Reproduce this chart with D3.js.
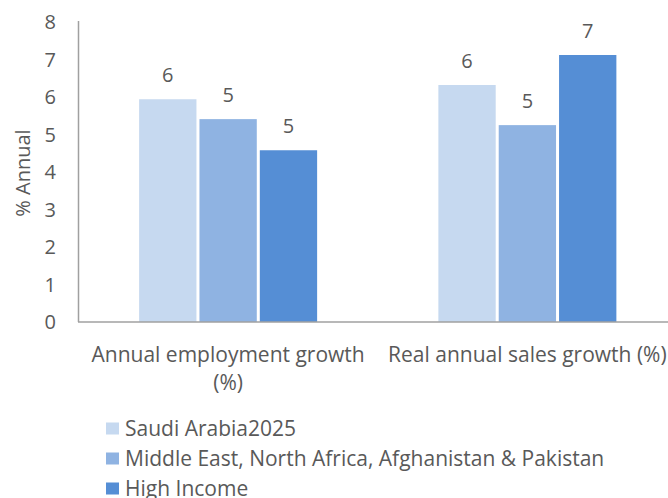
<!DOCTYPE html>
<html lang="en">
<head>
<meta charset="UTF-8">
<title>Growth</title>
<script src="https://d3js.org/d3.v7.min.js"></script>
<style>
    body { margin: 0; background: #fff; }
    text { font-family: 'Open Sans', 'Noto Sans', sans-serif; fill: #595959; }
</style>
</head>
<body>
<div id="chart"></div>
<script>
    const categories = ["Annual employment growth (%)", "Real annual sales growth (%)"];
    const categoryLines = [["Annual employment growth", "(%)"], ["Real annual sales growth (%)"]];
    const seriesNames = ["Saudi Arabia2025", "Middle East, North Africa, Afghanistan & Pakistan", "High Income"];
    const saudi = [5.94, 6.32];
    const mena = [5.41, 5.25];
    const highIncome = [4.58, 7.12];
    const yTicks = [0, 1, 2, 3, 4, 5, 6, 7, 8];
    const colors = ["#c6d9f0", "#8fb3e2", "#558ed5"];

    const width = 668, height = 498;
    const svg = d3.select("#chart").append("svg")
        .attr("width", width)
        .attr("height", height);

    const y = d3.scaleLinear().domain([0, 8]).range([322, 22]);
    const x0 = d3.scaleBand().domain(categories).range([78.5, 677]).paddingInner(0).paddingOuter(0);
    const x1 = d3.scaleBand().domain(seriesNames).range([0, 178]).paddingInner(0.05);
    const groupOffset = (x0.bandwidth() - 178) / 2;

    // y tick labels
    svg.selectAll(".ytick").data(yTicks).enter().append("text")
        .attr("x", 56)
        .attr("y", d => y(d))
        .attr("dy", "0.35em")
        .attr("text-anchor", "end")
        .attr("font-size", "20px")
        .text(d => d);

    svg.append("text")
        .attr("transform", "translate(23,173) rotate(-90)")
        .attr("text-anchor", "middle")
        .attr("dy", "0.35em")
        .attr("font-size", "20px")
        .text("% Annual");

    // bars
    const series = [saudi, mena, highIncome];
    series.forEach((vals, si) => {
        svg.selectAll(".bar" + si).data(vals).enter().append("rect")
            .attr("x", (d, i) => x0(categories[i]) + groupOffset + x1(seriesNames[si]))
            .attr("y", d => y(d))
            .attr("width", x1.bandwidth())
            .attr("height", d => y(0) - y(d))
            .attr("fill", colors[si]);
        svg.selectAll(".lbl" + si).data(vals).enter().append("text")
            .attr("x", (d, i) => x0(categories[i]) + groupOffset + x1(seriesNames[si]) + x1.bandwidth() / 2)
            .attr("y", d => y(d) - 17)
            .attr("text-anchor", "middle")
            .attr("font-size", "20px")
            .text(d => Math.round(d));
    });

    // axes lines
    svg.append("line")
        .attr("x1", 78.5).attr("x2", 78.5)
        .attr("y1", 21).attr("y2", y(0))
        .attr("stroke", "#a0a0a0").attr("stroke-width", 1.5);
    svg.append("line")
        .attr("x1", 78).attr("x2", 677)
        .attr("y1", y(0)).attr("y2", y(0))
        .attr("stroke", "#a0a0a0").attr("stroke-width", 1.5);

    // category labels
    categoryLines.forEach((lines, i) => {
        const cx = x0(categories[i]) + x0.bandwidth() / 2;
        lines.forEach((ln, j) => {
            svg.append("text")
                .attr("x", cx)
                .attr("y", 362 + j * 28)
                .attr("text-anchor", "middle")
                .attr("font-size", "21px")
                .text(ln);
        });
    });

    // legend
    const legend = svg.selectAll(".legend").data(seriesNames).enter().append("g")
        .attr("transform", (d, i) => `translate(106,${428.5 + i * 30})`);
    legend.append("rect")
        .attr("x", 0).attr("y", -6)
        .attr("width", 13).attr("height", 12)
        .attr("fill", (d, i) => colors[i]);
    legend.append("text")
        .attr("x", 19)
        .attr("dy", "0.35em")
        .attr("font-size", "21px")
        .text(d => d);
</script>
</body>
</html>
